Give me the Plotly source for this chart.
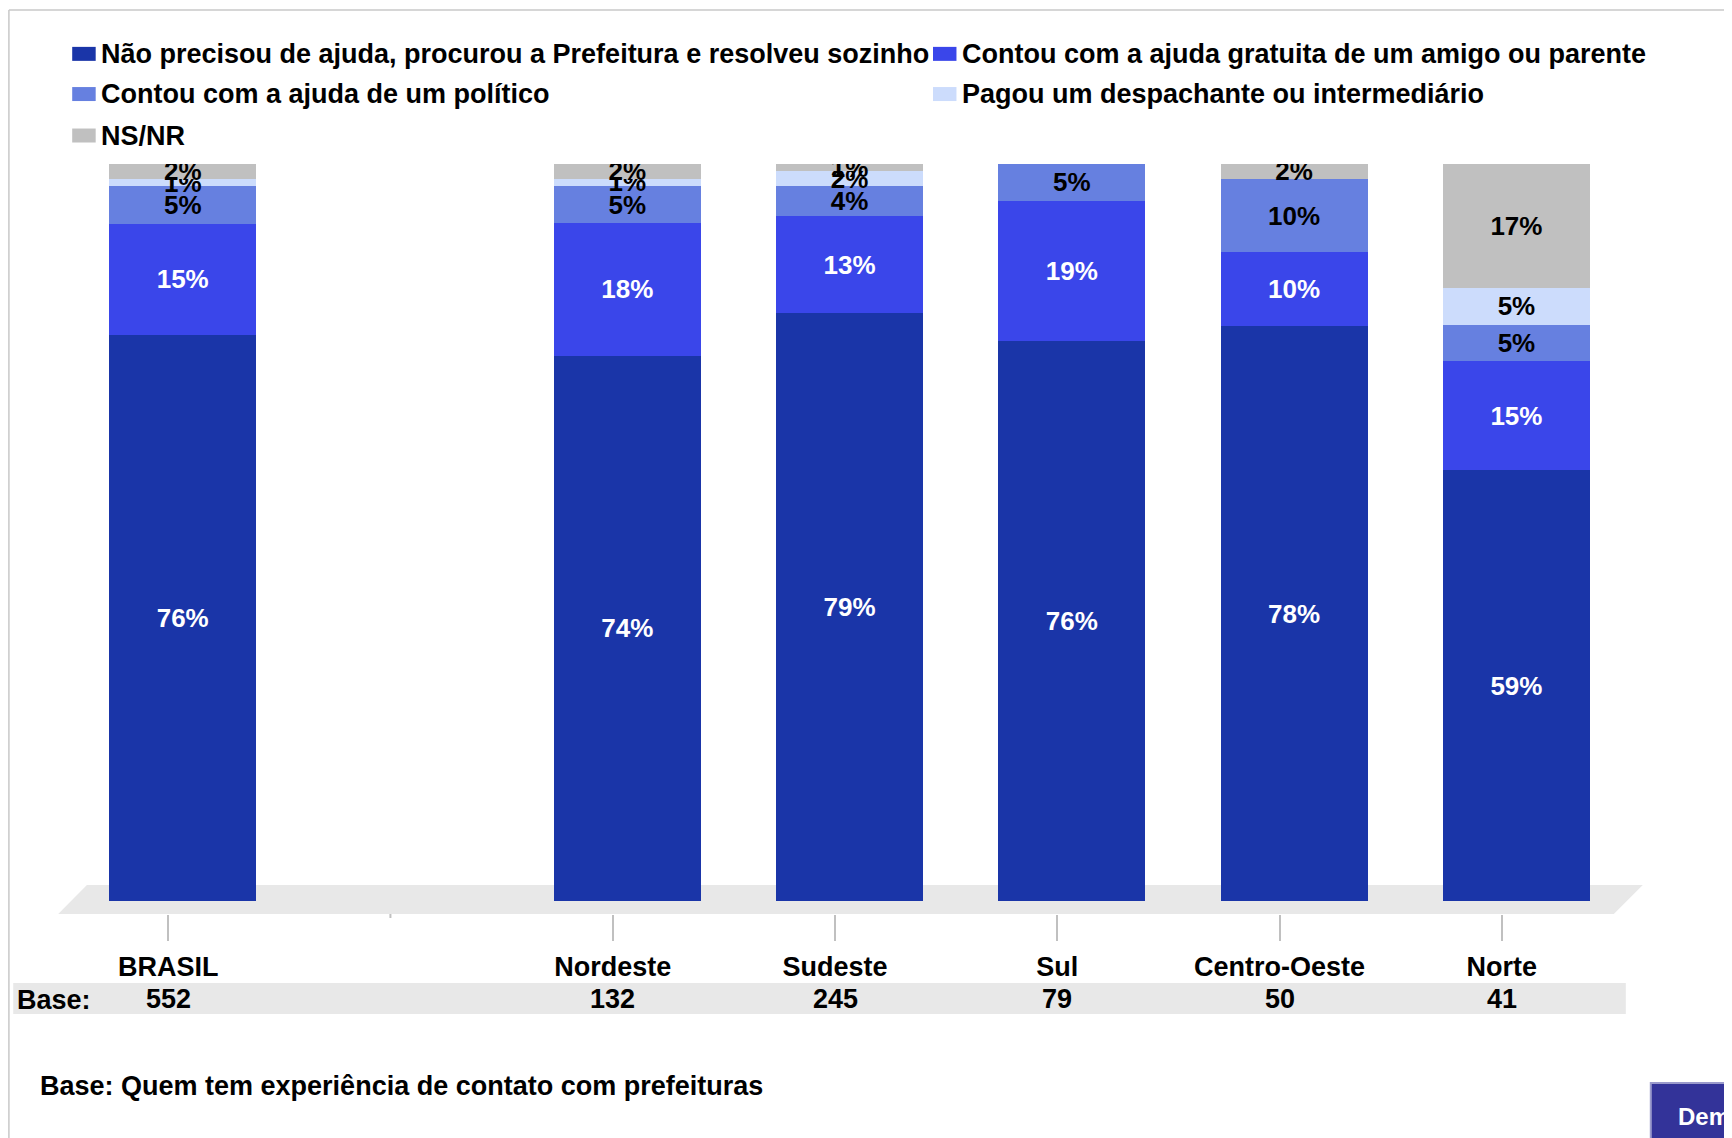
import plotly.graph_objects as go

# categories (blank slot between BRASIL and the regions)
categories = ["BRASIL", " ", "Nordeste", "Sudeste", "Sul", "Centro-Oeste", "Norte"]
bases = ["552", "", "132", "245", "79", "50", "41"]

series_names = [
    "Não precisou de ajuda, procurou a Prefeitura e resolveu sozinho",
    "Contou com a ajuda gratuita de um amigo ou parente",
    "Contou com a ajuda de um político",
    "Pagou um despachante ou intermediário",
    "NS/NR",
]
sozinho = [76, None, 74, 79, 76, 78, 59]
amigo = [15, None, 18, 13, 19, 10, 15]
politico = [5, None, 5, 4, 5, 10, 5]
despachante = [1, None, 1, 2, 0, 0, 5]
nsnr = [2, None, 2, 1, 0, 2, 17]

colors = ["#1a35a8", "#3a46ea", "#6680e0", "#ccdcfc", "#c0c0c0"]
text_colors = ["white", "white", "black", "black", "black"]

# page has an 8px body margin; positions below are in screenshot pixels
OFF = 8
W, H = 1732, 1138
ML, MR, MT, MB = 56.8, 118.8, 163.5, 224
PW, PH = W - ML - MR, H - MT - MB
FONT = "Liberation Sans, Arial, sans-serif"


def px(x):
    return (x - ML) / PW


def py(y):
    return (H - MB - y) / PH


fig = go.Figure()
all_values = [sozinho, amigo, politico, despachante, nsnr]
for name, vals, col, tcol in zip(series_names, all_values, colors, text_colors):
    labels = ["" if (v is None or v == 0) else f"{v}%" for v in vals]
    fig.add_trace(go.Bar(
        x=categories, y=vals, name=name,
        marker=dict(color=col, line=dict(width=0)),
        width=0.661, offset=-0.265,
        text=labels, texttemplate="%{text}",
        textposition="inside", insidetextanchor="middle",
        constraintext="none", textangle=0,
        insidetextfont=dict(family=FONT, size=26, color=tcol, weight="bold"),
        showlegend=False,
    ))

shapes = []
annotations = []

# frame
shapes.append(dict(type="line", xref="paper", yref="paper",
                   x0=px(OFF + 0.7), x1=px(W + 5), y0=py(9.3), y1=py(9.3),
                   line=dict(color="#c8c8c8", width=1.5)))
shapes.append(dict(type="line", xref="paper", yref="paper",
                   x0=px(OFF + 0.7), x1=px(OFF + 0.7), y0=py(9.3), y1=py(H + 5),
                   line=dict(color="#c8c8c8", width=1.5)))

# floor
floor = "M {} {} L {} {} L {} {} L {} {} Z".format(
    px(86.7), py(885), px(1643), py(885), px(1614), py(914), px(58), py(914))
shapes.append(dict(type="path", xref="paper", yref="paper", path=floor,
                   fillcolor="#e8e8e8", line=dict(width=0), layer="below"))

# short tick at blank slot
gap = categories.index(" ")
shapes.append(dict(type="line", xref="x", yref="paper", x0=gap, x1=gap,
                   y0=0, y1=py(918), line=dict(color="#c0c0c0", width=2)))

# base band and base counts
shapes.append(dict(type="rect", xref="paper", yref="paper",
                   x0=px(13), x1=px(1626), y0=py(983), y1=py(1014),
                   fillcolor="#e8e8e8", line=dict(width=0), layer="below"))
annotations.append(dict(text="Base:", xref="paper", yref="paper",
                        x=px(15), y=py(1000), xanchor="left", yanchor="middle",
                        showarrow=False,
                        font=dict(family=FONT, size=27, color="black", weight="bold")))
for cat, b in zip(categories, bases):
    if b:
        annotations.append(dict(text=b, xref="x", yref="paper", x=cat, y=py(999),
                                xanchor="center", yanchor="middle", showarrow=False,
                                font=dict(family=FONT, size=27, color="black",
                                          weight="bold")))

# legend (two columns)
col_sw = [72, 933]
row_y = [53.3, 93.5, 135]
for i, (name, col) in enumerate(zip(series_names, colors)):
    c, r = i % 2, i // 2
    shapes.append(dict(type="rect", xref="paper", yref="paper",
                       x0=px(col_sw[c]), x1=px(col_sw[c] + 23.5),
                       y0=py(row_y[r] - 7), y1=py(row_y[r] + 7),
                       fillcolor=col, line=dict(width=0)))
    annotations.append(dict(text=name, xref="paper", yref="paper",
                            x=px(col_sw[c] + 27), y=py(row_y[r]),
                            xanchor="left", yanchor="middle", showarrow=False,
                            font=dict(family=FONT, size=27, color="black", weight="bold")))

# footnote
annotations.append(dict(text="Base: Quem tem experiência de contato com prefeituras",
                        xref="paper", yref="paper", x=px(38), y=py(1086),
                        xanchor="left", yanchor="middle", showarrow=False,
                        font=dict(family=FONT, size=27, color="black", weight="bold")))

# cut-off button at bottom right
shapes.append(dict(type="rect", xref="paper", yref="paper",
                   x0=px(1651), x1=px(W + 20), y0=py(1083), y1=py(H + 20),
                   fillcolor="#333399", line=dict(color="#9a9acc", width=2)))
annotations.append(dict(text="Dem", xref="paper", yref="paper",
                        x=px(1676), y=py(1117), xanchor="left", yanchor="middle",
                        showarrow=False,
                        font=dict(family=FONT, size=24, color="white", weight="bold")))

tick_cats = [c for c in categories if c.strip()]

fig.update_layout(
    width=W - OFF, height=H - OFF,
    barmode="stack", barnorm="percent",
    plot_bgcolor="white", paper_bgcolor="white",
    margin=dict(l=ML - OFF, r=MR, t=MT - OFF, b=MB, autoexpand=False),
    shapes=shapes, annotations=annotations,
    showlegend=False,
    xaxis=dict(
        type="category", categoryorder="array", categoryarray=categories,
        range=[-0.5, len(categories) - 0.5],
        tickvals=tick_cats, ticktext=tick_cats,
        ticks="outside", ticklen=26, tickwidth=2, tickcolor="#c0c0c0",
        showline=False, showgrid=False, zeroline=False,
        tickfont=dict(family=FONT, size=27, color="black", weight="bold"),
        ticklabelstandoff=3,
    ),
    yaxis=dict(range=[-1.76, 100], visible=False, showgrid=False, zeroline=False),
)

fig.write_html("out.html")
